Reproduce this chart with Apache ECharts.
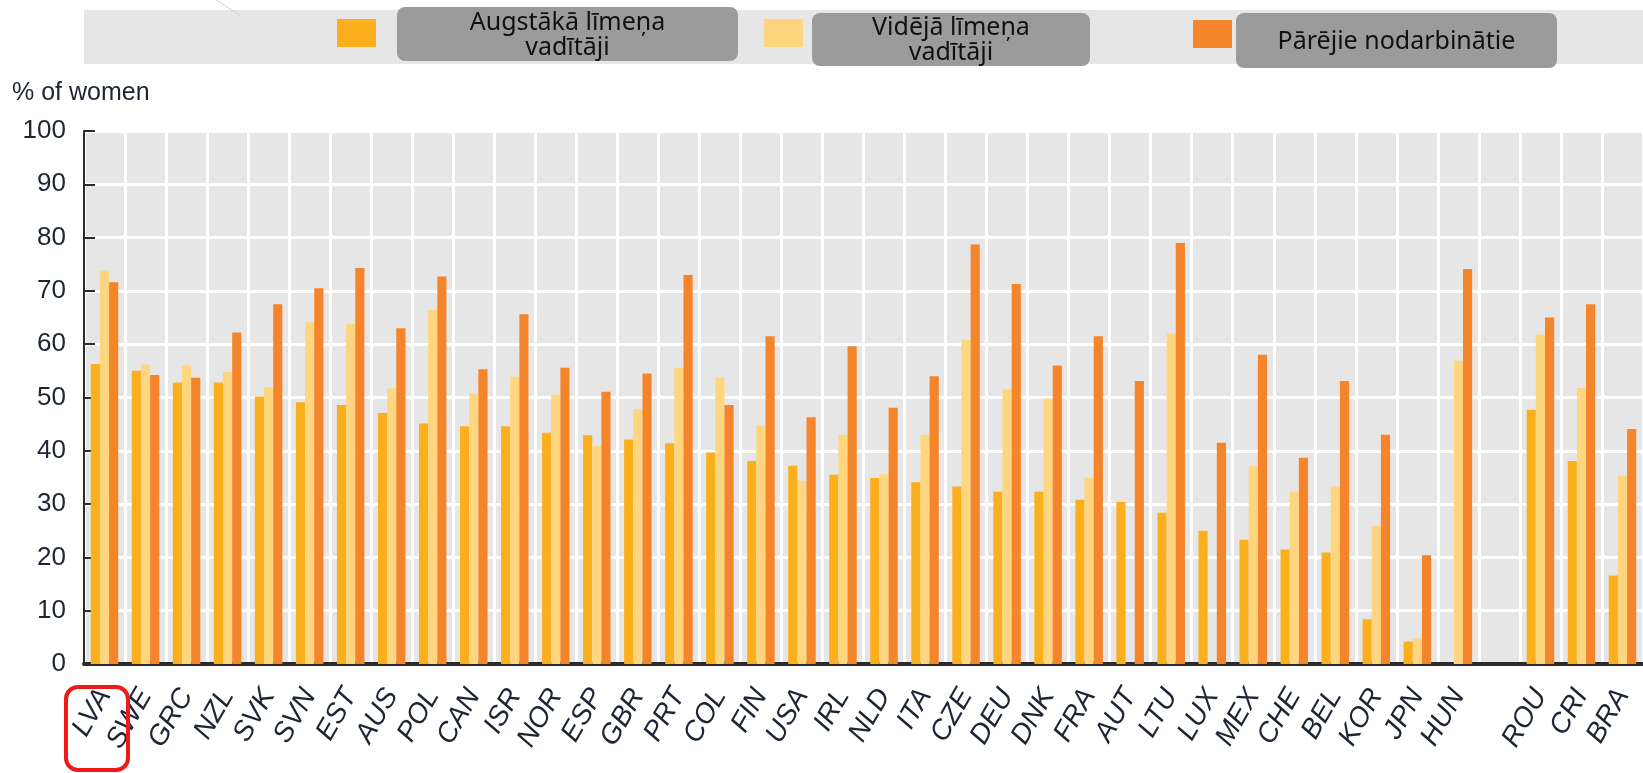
<!DOCTYPE html>
<html>
<head>
<meta charset="utf-8">
<script src="https://cdn.jsdelivr.net/npm/echarts@6/dist/echarts.min.js"></script>
<style>
  html, body { margin: 0; padding: 0; background: #fff; }
  #chart { width: 1643px; height: 773px; }
</style>
</head>
<body>
<div id="chart"></div>
<script>
// valstis (tukšā vieta starp HUN un ROU ir apzināta)
const countries = ['LVA', 'SWE', 'GRC', 'NZL', 'SVK', 'SVN', 'EST', 'AUS', 'POL', 'CAN',
  'ISR', 'NOR', 'ESP', 'GBR', 'PRT', 'COL', 'FIN', 'USA', 'IRL', 'NLD',
  'ITA', 'CZE', 'DEU', 'DNK', 'FRA', 'AUT', 'LTU', 'LUX', 'MEX', 'CHE',
  'BEL', 'KOR', 'JPN', 'HUN', '', 'ROU', 'CRI', 'BRA']

// % sieviešu
const seniorManagers = [56.3, 55.0, 52.8, 52.8, 50.2, 49.1, 48.6, 47.1, 45.1, 44.6,
  44.6, 43.4, 42.9, 42.1, 41.4, 39.7, 38.1, 37.2, 35.5, 34.9,
  34.1, 33.3, 32.3, 32.3, 30.8, 30.4, 28.4, 25.0, 23.3, 21.5,
  20.9, 8.4, 4.2, null, null, 47.7, 38.1, 16.6]
const middleManagers = [73.8, 56.2, 56.0, 54.8, 51.9, 64.1, 63.8, 51.7, 66.4, 50.8,
  53.9, 50.5, 40.9, 47.8, 55.6, 53.8, 44.8, 34.4, 43.0, 35.6,
  43.0, 60.8, 51.5, 49.8, 34.9, null, 62.0, null, 37.2, 32.3,
  33.3, 25.9, 4.8, 56.9, null, 61.8, 51.8, 35.3]
const otherWorkers = [71.6, 54.2, 53.7, 62.2, 67.5, 70.5, 74.3, 63.0, 72.7, 55.3,
  65.6, 55.6, 51.1, 54.5, 73.0, 48.6, 61.5, 46.3, 59.6, 48.1,
  54.0, 78.7, 71.3, 56.0, 61.5, 53.1, 79.0, 41.5, 58.0, 38.7,
  53.1, 43.0, 20.4, 74.1, null, 65.0, 67.5, 44.1]

const seriesNames = ['Augstākā līmeņa vadītāji', 'Vidējā līmeņa vadītāji', 'Pārējie nodarbinātie']
const colors = ['#FBAF1C', '#FED67F', '#F5852A']

// šaurāko pieejamo šriftu ņemam asīm
const axisFont = "'Liberation Sans', Arial, sans-serif"
const textColor = '#1d2533'

const chart = echarts.init(document.getElementById('chart'))

// leģendas kvadrātiņi, katrs savā vietā
function legendAt(name, left, top) {
  return {
    data: [name],
    left: left,
    top: top,
    padding: 0,
    icon: 'rect',
    itemWidth: 39,
    itemHeight: 28,
    selectedMode: false,
    formatter: () => '',
    z: 5
  }
}

// pelēkās uzlīmes ar tekstu virs leģendas
function labelBox(x, y, w, h, text) {
  return {
    type: 'group',
    z: 10,
    children: [
      { type: 'rect', shape: { x: x, y: y, width: w, height: h, r: 8 }, style: { fill: '#9b9b9b' } },
      {
        type: 'text',
        x: x + w / 2,
        y: y + h / 2 + 1,
        style: {
          text: text,
          fill: '#111',
          font: "25px 'Noto Sans', sans-serif",
          lineHeight: 25,
          align: 'center',
          verticalAlign: 'middle'
        }
      }
    ]
  }
}

const option = {
  animation: false,
  backgroundColor: '#fff',
  title: {
    text: '% of women',
    left: 12,
    top: 81,
    padding: 0,
    textStyle: { fontFamily: axisFont, fontSize: 25, fontWeight: 'normal', color: textColor }
  },
  legend: [
    legendAt(seriesNames[0], 337, 19),
    legendAt(seriesNames[1], 764, 19),
    legendAt(seriesNames[2], 1193, 20)
  ],
  graphic: [
    { type: 'rect', z: 0, shape: { x: 84, y: 10, width: 1559, height: 54 }, style: { fill: '#e6e6e6' } },
    { type: 'line', z: 1, shape: { x1: 216, y1: 0, x2: 240, y2: 15 }, style: { stroke: '#cfcfcf', lineWidth: 1 } },
    labelBox(397, 7, 341, 54, 'Augstākā līmeņa\nvadītāji'),
    labelBox(812, 13, 278, 53, 'Vidējā līmeņa\nvadītāji'),
    labelBox(1236, 13, 321, 55, 'Pārējie nodarbinātie'),
    // sarkanais rāmis ap LVA
    {
      type: 'rect',
      z: 20,
      shape: { x: 66, y: 687, width: 62, height: 83, r: 12 },
      style: { fill: 'none', stroke: '#f01818', lineWidth: 4 }
    }
  ],
  grid: {
    left: 84,
    right: -3,
    top: 131,
    bottom: 109,
    show: true,
    backgroundColor: '#e6e6e6',
    borderWidth: 0
  },
  xAxis: {
    type: 'category',
    data: countries,
    axisLine: { lineStyle: { color: '#2b2b2b', width: 4 } },
    axisTick: { inside: true, length: 12, lineStyle: { color: '#2b2b2b', width: 2 } },
    splitLine: { show: true, lineStyle: { color: '#fff', width: 3 } },
    axisLabel: {
      interval: 0,
      rotate: 60,
      margin: 27,
      fontFamily: axisFont,
      fontStyle: 'italic',
      fontSize: 28,
      color: textColor
    }
  },
  yAxis: {
    type: 'value',
    min: 0,
    max: 100,
    interval: 10,
    axisLine: { show: true, lineStyle: { color: '#2b2b2b', width: 2 } },
    axisTick: { show: true, inside: true, length: 11, lineStyle: { color: '#2b2b2b', width: 2 } },
    splitLine: { lineStyle: { color: '#fff', width: 3 } },
    axisLabel: { margin: 18, fontFamily: axisFont, fontSize: 26, color: textColor }
  },
  series: [
    { name: seriesNames[0], type: 'bar', data: seniorManagers, itemStyle: { color: colors[0] }, barGap: '0%', barCategoryGap: '33%' },
    { name: seriesNames[1], type: 'bar', data: middleManagers, itemStyle: { color: colors[1] }, barGap: '0%', barCategoryGap: '33%' },
    { name: seriesNames[2], type: 'bar', data: otherWorkers, itemStyle: { color: colors[2] }, barGap: '0%', barCategoryGap: '33%' }
  ]
}

chart.setOption(option)
</script>
</body>
</html>
